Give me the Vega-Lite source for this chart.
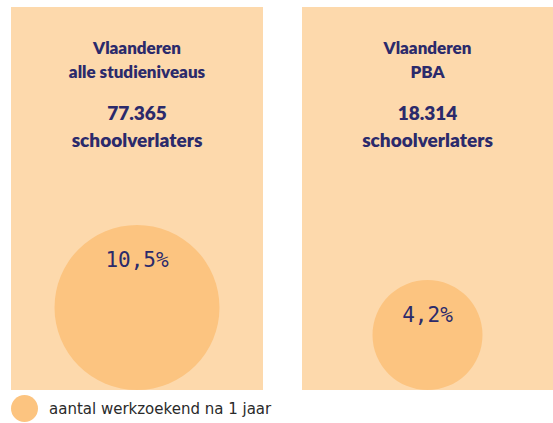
{
  "$schema": "https://vega.github.io/schema/vega-lite/v6.json",
  "padding": {"left": 11, "top": 7, "right": 0, "bottom": 0},
  "background": "white",
  "data": {"values": [
    {"gebied": "alle studieniveaus", "schoolverlaters": 77365, "werkzoekend": 0.105},
    {"gebied": "PBA", "schoolverlaters": 18314, "werkzoekend": 0.042}
  ]},
  "spacing": 39,
  "hconcat": [
    {
      "title": {"text": ["Vlaanderen", "alle studieniveaus"], "subtitle": ["77.365", "schoolverlaters"]},
      "width": 252,
      "height": 383,
      "view": {"fill": "#FDD9AC", "stroke": null},
      "transform": [{"filter": "datum.gebied === 'alle studieniveaus'"}],
      "layer": [
        {
          "mark": {"type": "circle", "opacity": 1},
          "encoding": {
            "y": {"field": "werkzoekend", "type": "quantitative", "scale": {"type": "pow", "exponent": 0.4425, "domain": [0, 0.105], "range": [383, 300.5], "nice": false}, "axis": null},
            "size": {"field": "werkzoekend", "type": "quantitative", "scale": {"type": "pow", "exponent": 0.885, "domain": [0, 0.105], "range": [0, 27225], "nice": false}, "legend": null},
            "color": {"datum": "aantal werkzoekend na 1 jaar", "type": "nominal", "scale": {"range": ["#FCC480"]}}
          }
        },
        {
          "mark": {"type": "text", "font": "DejaVu Sans Mono", "fontSize": 21, "color": "#2B2A6B", "baseline": "middle", "dy": 36},
          "encoding": {
            "y": {"field": "werkzoekend", "type": "quantitative", "scale": {"type": "pow", "exponent": 0.4425, "domain": [0, 0.105], "range": [383, 218], "nice": false}, "axis": null},
            "text": {"field": "werkzoekend", "type": "quantitative", "format": ".1%"}
          }
        }
      ],
      "resolve": {"scale": {"y": "independent"}}
    },
    {
      "title": {"text": ["Vlaanderen", "PBA"], "subtitle": ["18.314", "schoolverlaters"]},
      "width": 251,
      "height": 383,
      "view": {"fill": "#FDD9AC", "stroke": null},
      "transform": [{"filter": "datum.gebied === 'PBA'"}],
      "layer": [
        {
          "mark": {"type": "circle", "opacity": 1},
          "encoding": {
            "y": {"field": "werkzoekend", "type": "quantitative", "scale": {"type": "pow", "exponent": 0.4425, "domain": [0, 0.105], "range": [383, 300.5], "nice": false}, "axis": null},
            "size": {"field": "werkzoekend", "type": "quantitative", "scale": {"type": "pow", "exponent": 0.885, "domain": [0, 0.105], "range": [0, 27225], "nice": false}, "legend": null},
            "color": {"datum": "aantal werkzoekend na 1 jaar", "type": "nominal", "scale": {"range": ["#FCC480"]}}
          }
        },
        {
          "mark": {"type": "text", "font": "DejaVu Sans Mono", "fontSize": 21, "color": "#2B2A6B", "baseline": "middle", "dy": 36},
          "encoding": {
            "y": {"field": "werkzoekend", "type": "quantitative", "scale": {"type": "pow", "exponent": 0.4425, "domain": [0, 0.105], "range": [383, 218], "nice": false}, "axis": null},
            "text": {"field": "werkzoekend", "type": "quantitative", "format": ".1%"}
          }
        }
      ],
      "resolve": {"scale": {"y": "independent"}}
    }
  ],
  "config": {
    "locale": {"number": {"decimal": ",", "thousands": ".", "grouping": [3], "currency": ["€", ""]}},
    "title": {
      "anchor": "middle", "frame": "group", "offset": -145,
      "font": "Lato", "fontSize": 17, "fontWeight": 800, "color": "#2B2A6B", "lineHeight": 24,
      "subtitleFont": "Lato", "subtitleFontSize": 19, "subtitleFontWeight": 800, "subtitleColor": "#2B2A6B",
      "subtitleLineHeight": 27, "subtitlePadding": 23
    },
    "legend": {
      "orient": "bottom", "title": null, "symbolType": "circle", "symbolSize": 729, "symbolStrokeWidth": 0,
      "labelFont": "DejaVu Sans", "labelFontSize": 15, "labelColor": "#2A2A2A", "labelLimit": 0,
      "labelOffset": 11, "offset": 5, "padding": 0
    }
  }
}
